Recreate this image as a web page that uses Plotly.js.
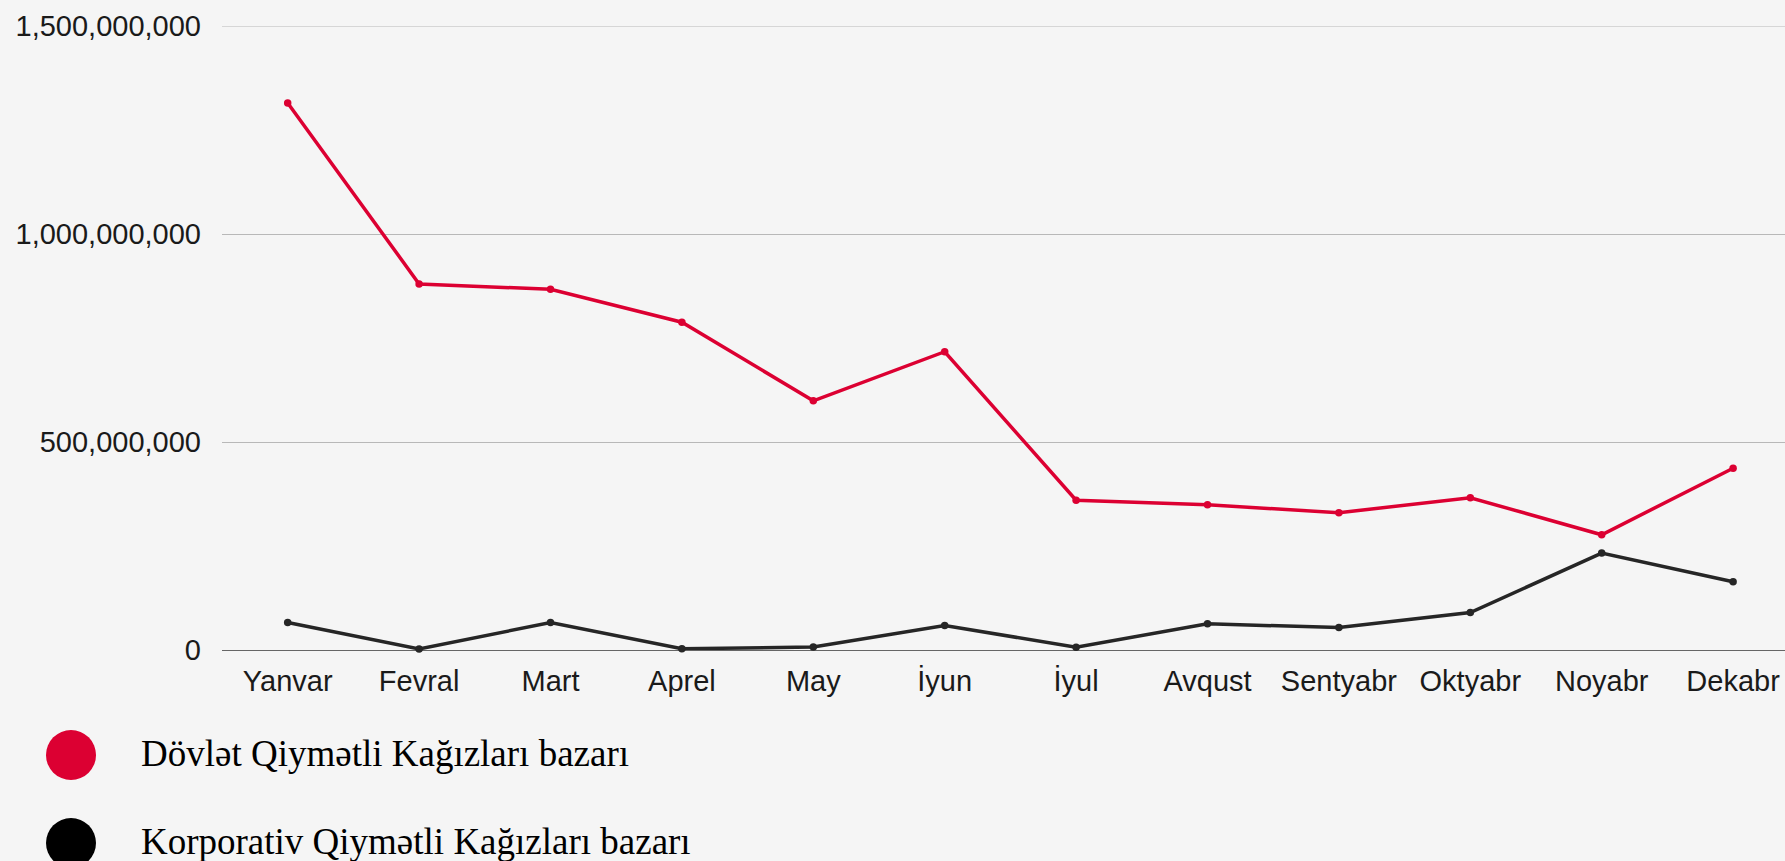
<!DOCTYPE html>
<html>
<head>
<meta charset="utf-8">
<script src="https://cdn.plot.ly/plotly-3.0.1.min.js"></script>
<style>html,body{margin:0;padding:0;background:#f5f5f5;}#chart{width:1785px;height:861px;}</style>
</head>
<body>
<div id="chart"></div>
<script>
const months = ["Yanvar","Fevral","Mart","Aprel","May","İyun","İyul","Avqust","Sentyabr","Oktyabr","Noyabr","Dekabr"];
const dovlet = [1315000000, 880000000, 867000000, 788000000, 599000000, 717000000, 360000000, 349000000, 330000000, 366000000, 277000000, 437000000];
const korporativ = [66000000, 2500000, 66000000, 3000000, 7000000, 59000000, 6500000, 63000000, 54000000, 90000000, 233000000, 164000000];
const seriesNames = ["Dövlət Qiymətli Kağızları bazarı", "Korporativ Qiymətli Kağızları bazarı"];
const seriesColors = ["#dc0032", "#262626"];
const yTicks = [0, 500000000, 1000000000, 1500000000];

const W = 1785, H = 861;
const mL = 222, mR = 0, mT = 26, mB = 211;
const plotW = W - mL - mR, plotH = H - mT - mB;
const px2x = p => (p - mL) / plotW;
const px2y = p => (H - mB - p) / plotH;

const traces = [dovlet, korporativ].map((vals, i) => ({
  type: 'scatter', mode: 'lines+markers',
  x: months, y: vals, name: seriesNames[i],
  line: {color: seriesColors[i], width: 3.5},
  marker: {color: seriesColors[i], size: 7.5},
  showlegend: false, cliponaxis: false
}));

const legendY = [755, 843];
const shapes = legendY.map((py, i) => ({
  type: 'circle', xref: 'paper', yref: 'paper',
  xsizemode: 'pixel', ysizemode: 'pixel',
  xanchor: px2x(71), yanchor: px2y(py),
  x0: -25, x1: 25, y0: -25, y1: 25,
  fillcolor: i === 0 ? '#dc0032' : '#000000', line: {width: 0}
}));
// top gridline (Plotly omits the gridline at the very edge of the range)
shapes.push({
  type: 'line', xref: 'paper', yref: 'y', layer: 'below',
  x0: 0, x1: 1, y0: yTicks[yTicks.length - 1], y1: yTicks[yTicks.length - 1],
  line: {color: '#b8b8b8', width: 1}
});
const annotations = legendY.map((py, i) => ({
  xref: 'paper', yref: 'paper', x: px2x(139), y: px2y(py - 2),
  xanchor: 'left', yanchor: 'middle', showarrow: false,
  text: seriesNames[i],
  font: {family: 'Liberation Serif, serif', size: 37, color: '#000'}
}));

const layout = {
  width: W, height: H,
  margin: {l: mL, r: mR, t: mT, b: mB, pad: 0},
  paper_bgcolor: '#f5f5f5', plot_bgcolor: '#f5f5f5',
  font: {family: 'Liberation Sans, Arial, sans-serif', size: 29, color: '#1a1a1a'},
  xaxis: {
    type: 'category', range: [-0.5, 11.395],
    showgrid: false, zeroline: false, showline: false,
    ticks: '', tickfont: {size: 29}, ticklabelstandoff: 11
  },
  yaxis: {
    range: [0, 1500000000], tickvals: yTicks,
    tickformat: ',d', showgrid: true, gridcolor: '#b8b8b8', gridwidth: 1,
    zeroline: true, zerolinecolor: '#666666', zerolinewidth: 1,
    showline: false, ticks: '', tickfont: {size: 29}, ticklabelstandoff: 20
  },
  shapes: shapes, annotations: annotations, showlegend: false
};

Plotly.newPlot('chart', traces, layout, {displayModeBar: false, staticPlot: true});
</script>
</body>
</html>
